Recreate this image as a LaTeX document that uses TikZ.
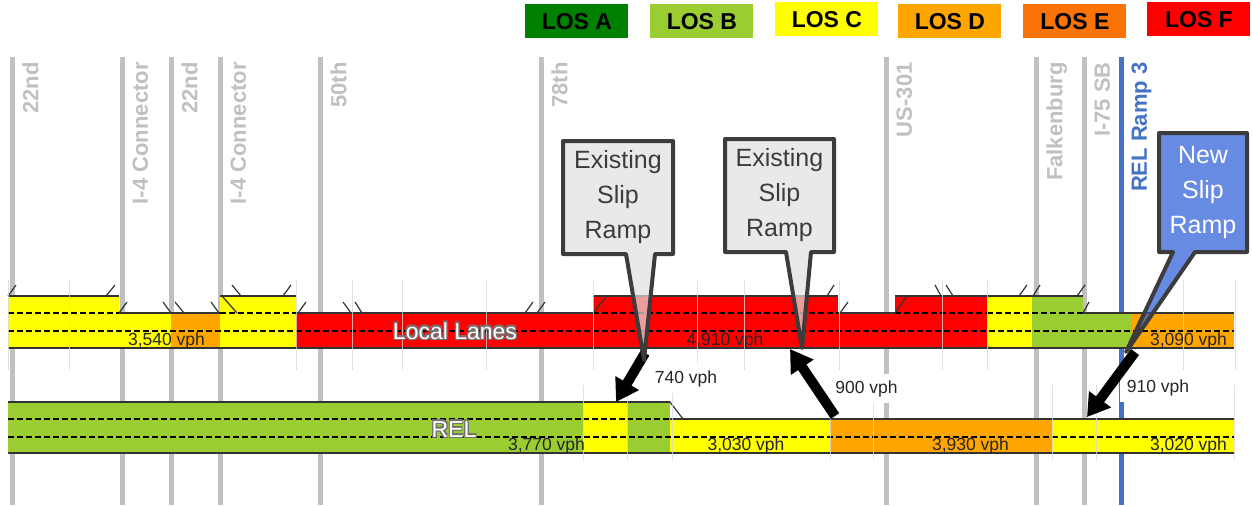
\documentclass[tikz,border=0pt]{standalone}
\usepackage{fontspec}
\setmainfont{Liberation Sans}
\usetikzlibrary{arrows.meta}

\definecolor{losA}{HTML}{008000}
\definecolor{losB}{HTML}{9ACD32}
\definecolor{losC}{HTML}{FFFF00}
\definecolor{losD}{HTML}{FFA500}
\definecolor{losE}{HTML}{F97306}
\definecolor{losF}{HTML}{FF0000}
\definecolor{xgray}{HTML}{C0C0C0}
\definecolor{rampblue}{HTML}{4472C4}
\definecolor{edgegray}{HTML}{333333}
\definecolor{slipfill}{HTML}{E0E0E0}
\definecolor{newfill}{HTML}{2758D6}
\definecolor{calloutedge}{HTML}{3C3C3C}

% white text with a thin gray rim
\newcommand{\halotext}[1]{\leavevmode
  \rlap{\color{black!55}\kern0.6pt\raisebox{-0.6pt}{#1}}%
  \rlap{\color{black!55}\kern-0.6pt\raisebox{0.6pt}{#1}}%
  \rlap{\color{black!55}\kern0.6pt\raisebox{0.6pt}{#1}}%
  \rlap{\color{black!55}\kern-0.6pt\raisebox{-0.6pt}{#1}}%
  \textcolor{white}{#1}}

\tikzset{
  losbox/.style={anchor=north west, minimum width=51.5pt, minimum height=17pt, inner sep=0pt,
    font=\bfseries\fontsize{11.5}{13}\selectfont},
  xline/.style={draw=xgray, line width=2.5pt},
  xname/.style={rotate=90, anchor=north east, inner sep=0pt, text=xgray,
    font=\bfseries\fontsize{11}{13}\selectfont},
  segline/.style={draw=gray!30, line width=0.5pt, opacity=0.8},
  laneedge/.style={draw=edgegray, line width=0.8pt},
  lanedash/.style={draw=black, line width=0.6pt, dash pattern=on 3pt off 1.5pt},
  ramptick/.style={draw=edgegray, line width=0.6pt},
  vph/.style={anchor=base, inner sep=0pt, text=black!85, font=\fontsize{8.75}{10}\selectfont},
  rampvph/.style={vph, fill=white, inner xsep=3.5pt, inner ysep=3pt},
  barname/.style={anchor=base, inner sep=0pt, font=\fontsize{11.5}{13}\selectfont},
  flow/.style={line width=5pt, -{Triangle[length=11pt, width=13pt]}},
  callout/.style={draw=calloutedge, line width=2pt, line join=round, fill opacity=0.7},
  calloutlabel/.style={align=center, inner sep=0pt, font=\fontsize{12.5}{17.5}\selectfont},
}

\begin{document}
\begin{tikzpicture}[x=0.5pt, y=-0.5pt]
  \useasboundingbox (0,0) rectangle (1252,505);

  % legend
  \foreach \xa/\ya/\col/\txt in {525/4/losA/LOS A, 650/4/losB/LOS B, 775/2/losC/LOS C,
      898/4/losD/LOS D, 1023/4/losE/LOS E, 1147/2/losF/LOS F}
    \node[losbox, fill=\col] (leg-\col) at (\xa,\ya) {\txt};

  % interchanges
  \foreach \xpos/\xtxt in {12/22nd, 122/I-4 Connector, 171/22nd, 220/I-4 Connector, 320/50th,
      541/78th, 886/US-301, 1036/Falkenburg, 1084/I-75 SB}
  {
    \draw[xline] (\xpos,57) -- (\xpos,505);
    \node[xname] (x-\xpos) at (\xpos+10,62) {\xtxt};
  }
  \draw[xline, draw=rampblue] (1121,57) -- (1121,505);
  \node[xname, text=rampblue] (x-1121) at (1131,62) {REL Ramp 3};

  % local lanes
  \foreach \xa/\xb/\ytop/\col in {8/119/296/losC, 119/171/313/losC, 171/220/313/losD,
      220/296/296/losC, 296/593/313/losF, 593/838/296/losF, 838/895/313/losF, 895/987/296/losF,
      987/1032/296/losC, 1032/1083/296/losB, 1083/1132/313/losB, 1132/1234/313/losD}
  {
    \fill[\col] (\xa,\ytop) rectangle (\xb,348);
    \draw[lanedash] (\xa,313) -- (\xb,313);
    \draw[laneedge] (\xa,\ytop) -- (\xb,\ytop);
  }
  \draw[lanedash] (8,331) -- (1234,331);
  \draw[laneedge] (8,348) -- (1234,348);

  % REL
  \foreach \xa/\xb/\ytop/\col in {8/583/402/losB, 583/627/402/losC, 627/670/402/losB,
      670/830/419/losC, 830/1052/419/losD, 1052/1234/419/losC}
  {
    \fill[\col] (\xa,\ytop) rectangle (\xb,453);
    \draw[lanedash] (\xa,419) -- (\xb,419);
    \draw[laneedge] (\xa,\ytop) -- (\xb,\ytop);
  }
  \draw[lanedash] (8,437) -- (1234,437);
  \draw[laneedge] (8,453) -- (1234,453);

  % ramp ticks and tapers
  \foreach \xa/\ya/\xb/\yb in {8/296/16/285, 106/296/115/285, 119/313/127/302, 163/302/171/313,
      175/302/184/313, 211/302/219/313, 232/285/241/296, 283/296/291/285, 298/313/306/302,
      343/302/351/313, 355/302/362/313, 525/313/533/302, 537/313/545/302, 827/296/834/285,
      840/313/848/302, 935/285/941/296, 946/285/953/296, 1019/296/1027/285, 1033/296/1040/285,
      1077/296/1085/285, 222/296/237/313, 593/313/607/296, 895/313/907/296, 1083/313/1089/302,
      670/402/683/419}
    \draw[ramptick] (\xa,\ya) -- (\xb,\yb);

  % segment breaks
  \foreach \xpos in {8,69,296,352,402,486,593,697,744,839,942,987,1183,1235}
    \draw[segline] (\xpos,280) -- (\xpos,370);
  \foreach \xpos in {583,627,672,830,873,1052,1096,1234}
    \draw[segline] (\xpos,385) -- (\xpos,460);

  % bar labels
  \node[barname] (local) at (455,339) {\halotext{Local Lanes}};
  \node[barname] (rel) at (454,437) {\halotext{REL}};
  \node[vph] (vph-l1) at (166.5,345) {3,540 vph};
  \node[vph] (vph-l2) at (725,345) {4,910 vph};
  \node[vph] (vph-l3) at (1188.5,345) {3,090 vph};
  \node[vph] (vph-r1) at (546.5,450) {3,770 vph};
  \node[vph] (vph-r2) at (746,450) {3,030 vph};
  \node[vph] (vph-r3) at (970.5,450) {3,930 vph};
  \node[vph] (vph-r4) at (1188.5,450) {3,020 vph};

  % slip ramp volumes
  \node[rampvph] (vph-s1) at (686,383) {740 vph};
  \node[rampvph] (vph-s2) at (866.5,393) {900 vph};
  \node[rampvph] (vph-s3) at (1158,392) {910 vph};

  \coordinate (s1-top) at (645,353);
  \coordinate (s1-bot) at (616,402);
  \coordinate (s2-bot) at (835,416);
  \coordinate (s2-top) at (790,349);
  \coordinate (s3-top) at (1135,352);
  \coordinate (s3-bot) at (1087,417);
  \draw[flow] (s1-top) -- (s1-bot);
  \draw[flow] (s2-bot) -- (s2-top);
  \draw[flow] (s3-top) -- (s3-bot);

  % callouts
  \draw[callout, fill=slipfill] (563,141) -- (673,141) -- (673,254) -- (655,254) -- (644,360)
    -- (626,254) -- (563,254) -- cycle;
  \node[calloutlabel, text=calloutedge] (slip1) at (618,197.5) {Existing\\Slip\\Ramp};
  \draw[callout, fill=slipfill] (725,139) -- (834,139) -- (834,252) -- (811,252) -- (802,348)
    -- (786,252) -- (725,252) -- cycle;
  \node[calloutlabel, text=calloutedge] (slip2) at (779.5,195.5) {Existing\\Slip\\Ramp};
  \draw[callout, fill=newfill] (1159,133) -- (1247,133) -- (1247,252) -- (1195,252) -- (1126,352)
    -- (1173,252) -- (1159,252) -- cycle;
  \node[calloutlabel, text=white] (slip3) at (1203,192.5) {New\\Slip\\Ramp};
\end{tikzpicture}
\end{document}
